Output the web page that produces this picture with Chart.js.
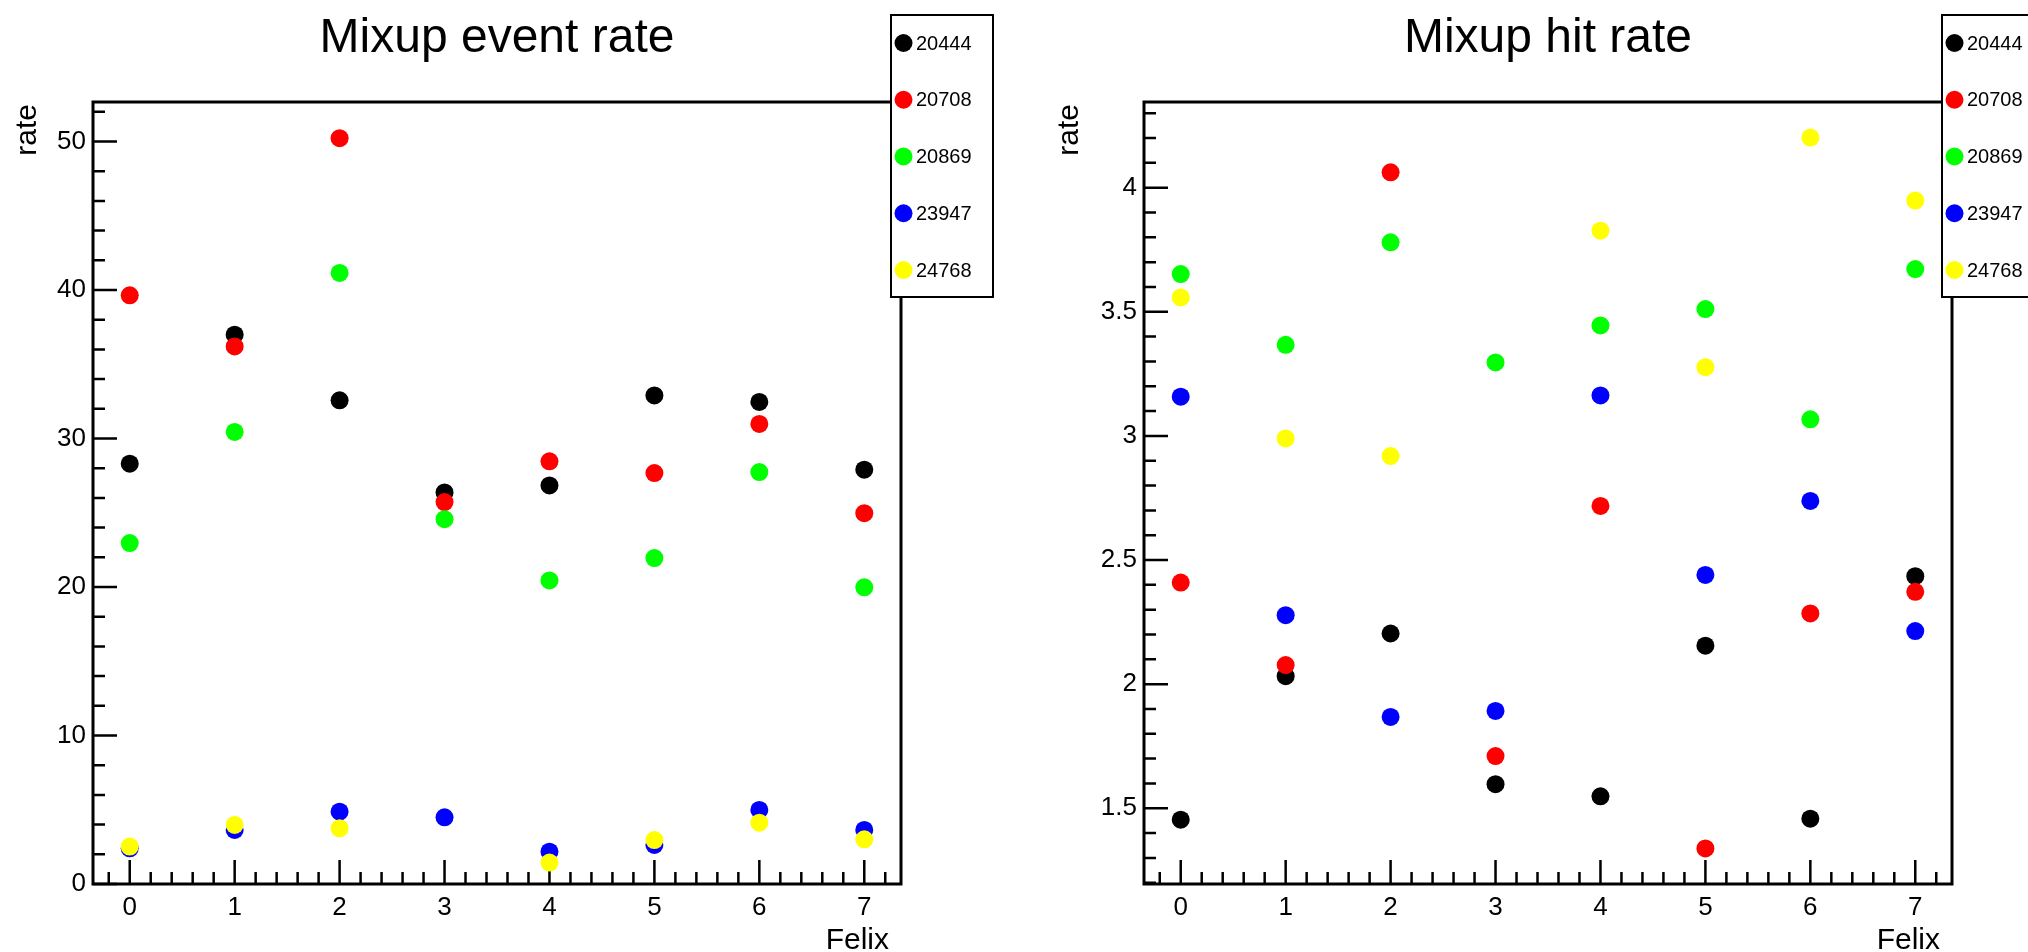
<!DOCTYPE html>
<html>
<head>
<meta charset="utf-8">
<title>Mixup rates</title>
<script src="https://cdn.jsdelivr.net/npm/chart.js"></script>
<style>
    body { margin: 0; background: #fff; }
    #wrap { position: relative; width: 2028px; height: 952px; overflow: hidden; }
    canvas { position: absolute; top: 0; }
</style>
</head>
<body>
<div id="wrap">
    <canvas id="eventChart" width="1014" height="952" style="left:0px"></canvas>
    <canvas id="hitChart" width="1014" height="952" style="left:1014px"></canvas>
</div>

<script>
    var felix = [0, 1, 2, 3, 4, 5, 6, 7];
    var runs = ['20444', '20708', '20869', '23947', '24768'];
    var runColors = ['#000000', '#ff0000', '#00ff00', '#0000ff', '#ffff00'];

    // event rate per felix board (run 24768 has nothing for felix 3)
    var eventRate20444 = [28.3, 36.99, 32.57, 26.37, 26.84, 32.9, 32.46, 27.9];
    var eventRate20708 = [39.64, 36.2, 50.22, 25.72, 28.46, 27.67, 30.98, 24.97];
    var eventRate20869 = [22.96, 30.44, 41.15, 24.57, 20.44, 21.95, 27.74, 19.98];
    var eventRate23947 = [2.4, 3.64, 4.87, 4.49, 2.18, 2.63, 4.99, 3.64];
    var eventRate24768 = [2.52, 3.98, 3.75, null, 1.44, 2.96, 4.13, 3.01];

    // hit rate per felix board
    var hitRate20444 = [1.454, 2.032, 2.204, 1.597, 1.548, 2.155, 1.458, 2.435];
    var hitRate20708 = [2.409, 2.077, 4.062, 1.71, 2.718, 1.338, 2.285, 2.372];
    var hitRate20869 = [3.652, 3.367, 3.78, 3.296, 3.445, 3.511, 3.067, 3.672];
    var hitRate23947 = [3.158, 2.278, 1.868, 1.892, 3.163, 2.44, 2.738, 2.214];
    var hitRate24768 = [3.558, 2.99, 2.919, null, 3.827, 3.277, 4.202, 3.948];

    var xTicks = [0, 1, 2, 3, 4, 5, 6, 7];
    var eventRateTicks = [0, 10, 20, 30, 40, 50];
    var hitRateTicks = [1.5, 2, 2.5, 3, 3.5, 4];

    var FONT = "'Liberation Sans', Arial, Helvetica, sans-serif";
    Chart.defaults.font.family = FONT;
    Chart.defaults.color = '#000';

    // root style axis range: 5% margin on both sides, not below zero
    function yRange(series) {
        var all = [];
        series.forEach(function (s) { s.forEach(function (v) { if (v !== null) all.push(v); }); });
        var lo = Math.min.apply(null, all), hi = Math.max.apply(null, all);
        var m = 0.05 * (hi - lo);
        var min = lo - m;
        if (min < 0 && lo >= 0) min = 0;
        return { min: min, max: hi + m };
    }

    function makeDatasets(series) {
        return series.map(function (values, i) {
            return {
                label: runs[i],
                data: felix.map(function (f, j) { return { x: f, y: values[j] }; })
                           .filter(function (p) { return p.y !== null; }),
                backgroundColor: runColors[i],
                pointRadius: 9,
                pointHoverRadius: 9,
                pointBorderWidth: 0,
                order: series.length - i  // later runs on top
            };
        });
    }

    // ticks inside the frame, minor ticks, frame
    function drawTicks(scale, minor, major, horizontal, a, ctx) {
        var k0 = Math.ceil(scale.min / minor - 1e-6), k1 = Math.floor(scale.max / minor + 1e-6);
        for (var k = k0; k <= k1; k++) {
            var v = k * minor;
            var r = v / major;
            var len = Math.abs(r - Math.round(r)) < 1e-6 ? 24 : 12;
            var p = scale.getPixelForValue(v);
            if (horizontal) {
                ctx.moveTo(p, a.bottom);
                ctx.lineTo(p, a.bottom - len);
            } else {
                ctx.moveTo(a.left, p);
                ctx.lineTo(a.left + len, p);
            }
        }
    }

    var rootLook = {
        id: 'rootLook',
        beforeDatasetsDraw: function (chart, args, opts) {
            var ctx = chart.ctx, a = chart.chartArea;
            ctx.save();
            ctx.strokeStyle = '#000';
            ctx.lineWidth = 2.5;
            ctx.beginPath();
            drawTicks(chart.scales.x, 0.2, 1, true, a, ctx);
            drawTicks(chart.scales.y, opts.minorY, opts.majorY, false, a, ctx);
            ctx.stroke();
            ctx.lineWidth = 3;
            ctx.strokeRect(a.left, a.top, a.right - a.left, a.bottom - a.top);
            ctx.restore();
        },
        afterDraw: function (chart, args, opts) {
            var ctx = chart.ctx, a = chart.chartArea;
            ctx.save();
            ctx.fillStyle = '#000';

            // title
            ctx.font = '48px ' + FONT;
            ctx.textAlign = 'center';
            ctx.textBaseline = 'alphabetic';
            ctx.fillText(opts.title, (a.left + a.right) / 2, 52);

            // axis titles
            ctx.font = '30px ' + FONT;
            ctx.textAlign = 'right';
            ctx.fillText(opts.xTitle, a.right - 12, 949);
            ctx.save();
            ctx.translate(a.left - opts.yTitleGap, a.top + 2);
            ctx.rotate(-Math.PI / 2);
            ctx.fillText(opts.yTitle, 0, 0);
            ctx.restore();

            // legend box
            var lx = a.right - 10, ly = 15, lw = 102, lh = 282;
            ctx.fillStyle = '#fff';
            ctx.fillRect(lx, ly, lw, lh);
            ctx.strokeStyle = '#000';
            ctx.lineWidth = 2;
            ctx.strokeRect(lx, ly, lw, lh);
            ctx.font = '20px ' + FONT;
            ctx.textAlign = 'left';
            ctx.textBaseline = 'middle';
            chart.data.datasets.forEach(function (ds, i) {
                var cy = 43 + i * 56.75;
                ctx.fillStyle = ds.backgroundColor;
                ctx.beginPath();
                ctx.arc(lx + 12.5, cy, 9, 0, Math.PI * 2);
                ctx.fill();
                ctx.fillStyle = '#000';
                ctx.fillText(ds.label, lx + 25, cy + 1);
            });
            ctx.restore();
        }
    };

    function makeChart(id, series, yTicks, look, yWidth, rightPad) {
        var r = yRange(series);
        return new Chart(document.getElementById(id), {
            type: 'scatter',
            data: { datasets: makeDatasets(series) },
            plugins: [rootLook],
            options: {
                responsive: false,
                animation: false,
                events: [],
                layout: { padding: { top: 102, right: rightPad, bottom: 0, left: 0 } },
                plugins: {
                    legend: { display: false },
                    tooltip: { enabled: false },
                    rootLook: look
                },
                scales: {
                    x: {
                        type: 'linear',
                        min: -0.35,
                        max: 7.35,
                        grid: { display: false, drawTicks: false },
                        border: { display: false },
                        afterBuildTicks: function (s) { s.ticks = xTicks.map(function (v) { return { value: v }; }); },
                        afterFit: function (s) { s.height = 68; },
                        ticks: { autoSkip: false, maxRotation: 0, padding: 8, font: { size: 26 },
                                 callback: function (v) { return String(v); } }
                    },
                    y: {
                        type: 'linear',
                        min: r.min,
                        max: r.max,
                        grid: { display: false, drawTicks: false },
                        border: { display: false },
                        afterBuildTicks: function (s) { s.ticks = yTicks.map(function (v) { return { value: v }; }); },
                        afterFit: function (s) { s.width = yWidth; },
                        ticks: { autoSkip: false, padding: 7, font: { size: 26 },
                                 callback: function (v) { return String(v); } }
                    }
                }
            }
        });
    }

    makeChart('eventChart',
        [eventRate20444, eventRate20708, eventRate20869, eventRate23947, eventRate24768],
        eventRateTicks,
        { title: 'Mixup event rate', xTitle: 'Felix', yTitle: 'rate', yTitleGap: 57, minorY: 2, majorY: 10 },
        93, 113);

    makeChart('hitChart',
        [hitRate20444, hitRate20708, hitRate20869, hitRate23947, hitRate24768],
        hitRateTicks,
        { title: 'Mixup hit rate', xTitle: 'Felix', yTitle: 'rate', yTitleGap: 66, minorY: 0.1, majorY: 0.5 },
        130, 76);
</script>
</body>
</html>
